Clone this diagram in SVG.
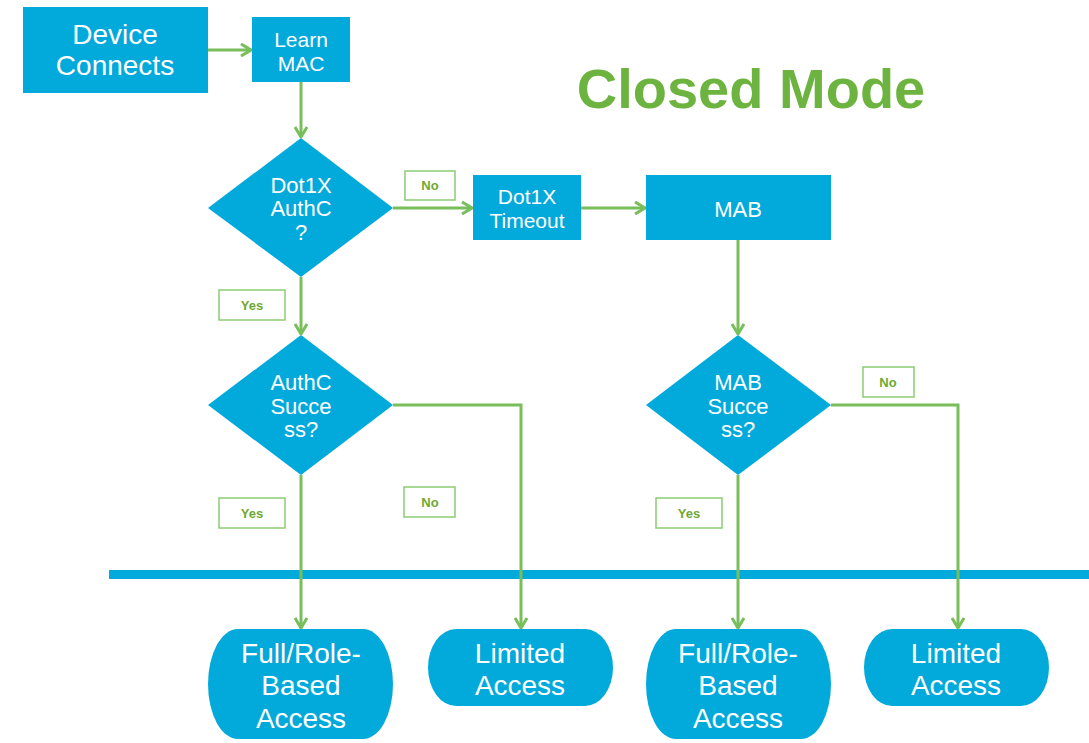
<svg xmlns="http://www.w3.org/2000/svg" width="1089" height="743" viewBox="0 0 1089 743">
  <style>
    .node { fill: #02a9db; }
    .txt { font-family: "Liberation Sans", Arial, sans-serif; fill: #ffffff; text-anchor: middle; }
    .conn { fill: none; stroke: #78be5a; stroke-width: 3; stroke-linejoin: miter; }
    .tag rect { fill: #ffffff; stroke: #8ccb74; stroke-width: 1.5; }
    .tag text { font-family: "Liberation Sans", Arial, sans-serif; font-weight: bold; font-size: 13px; fill: #6fa832; text-anchor: middle; }
    .title { font-family: "Liberation Sans", Arial, sans-serif; font-weight: bold; font-size: 56px; fill: #6db33f; text-anchor: middle; }
  </style>
  <defs>
    <marker id="arrow" viewBox="0 0 12 14" refX="11" refY="7" markerWidth="12" markerHeight="14" markerUnits="userSpaceOnUse" orient="auto">
      <path d="M1,1 L11,7 L1,13" fill="none" stroke="#78be5a" stroke-width="3"/>
    </marker>
  </defs>
  <rect width="1089" height="743" fill="#ffffff"/>

  <text class="title" x="751" y="108">Closed Mode</text>

  <!-- divider bar -->
  <rect x="109" y="570" width="980" height="9" fill="#02a9db"/>

  <g id="connectors">
    <path class="conn" d="M208,50 H251" marker-end="url(#arrow)"/>
    <path class="conn" d="M301,82 V137" marker-end="url(#arrow)"/>
    <path class="conn" d="M393,208 H472" marker-end="url(#arrow)"/>
    <path class="conn" d="M581,208 H645" marker-end="url(#arrow)"/>
    <path class="conn" d="M301,277 V334" marker-end="url(#arrow)"/>
    <path class="conn" d="M738,240 V334" marker-end="url(#arrow)"/>
    <path class="conn" d="M301,475 V628" marker-end="url(#arrow)"/>
    <path class="conn" d="M393,405 H521 V628" marker-end="url(#arrow)"/>
    <path class="conn" d="M738,475 V628" marker-end="url(#arrow)"/>
    <path class="conn" d="M831,405 H958 V628" marker-end="url(#arrow)"/>
  </g>

  <g id="labels">
    <g class="tag"><rect x="405" y="171" width="50" height="29"/><text x="430" y="190">No</text></g>
    <g class="tag"><rect x="219" y="290" width="66" height="30"/><text x="252" y="310">Yes</text></g>
    <g class="tag"><rect x="219" y="498" width="66" height="30"/><text x="252" y="518">Yes</text></g>
    <g class="tag"><rect x="404" y="487" width="51" height="30"/><text x="430" y="507">No</text></g>
    <g class="tag"><rect x="863" y="367" width="51" height="30"/><text x="888" y="387">No</text></g>
    <g class="tag"><rect x="656" y="498" width="66" height="30"/><text x="689" y="518">Yes</text></g>
  </g>

  <g id="device-connects">
    <rect class="node" x="23" y="7" width="185" height="86"/>
    <text class="txt" font-size="28" x="115" y="44">Device</text>
    <text class="txt" font-size="28" x="115" y="75">Connects</text>
  </g>

  <g id="learn-mac">
    <rect class="node" x="252" y="17" width="98" height="65"/>
    <text class="txt" font-size="21" x="301" y="47">Learn</text>
    <text class="txt" font-size="21" x="301" y="71">MAC</text>
  </g>

  <g id="dot1x-authc">
    <polygon class="node" points="301,138 393,208 301,277 208,208"/>
    <text class="txt" font-size="22" x="301" y="193">Dot1X</text>
    <text class="txt" font-size="22" x="301" y="216">AuthC</text>
    <text class="txt" font-size="22" x="301" y="240">?</text>
  </g>

  <g id="dot1x-timeout">
    <rect class="node" x="473" y="175" width="108" height="65"/>
    <text class="txt" font-size="21" x="527" y="204">Dot1X</text>
    <text class="txt" font-size="21" x="527" y="228">Timeout</text>
  </g>

  <g id="mab">
    <rect class="node" x="646" y="175" width="185" height="65"/>
    <text class="txt" font-size="22" x="738" y="217">MAB</text>
  </g>

  <g id="authc-success">
    <polygon class="node" points="301,335 393,405 301,475 208,405"/>
    <text class="txt" font-size="22" x="301" y="390">AuthC</text>
    <text class="txt" font-size="22" x="301" y="414">Succe</text>
    <text class="txt" font-size="22" x="301" y="437">ss?</text>
  </g>

  <g id="mab-success">
    <polygon class="node" points="738,335 831,405 738,475 646,405"/>
    <text class="txt" font-size="22" x="738" y="390">MAB</text>
    <text class="txt" font-size="22" x="738" y="414">Succe</text>
    <text class="txt" font-size="22" x="738" y="437">ss?</text>
  </g>

  <g id="full-access-1">
    <rect class="node" x="208" y="629" width="185" height="110" rx="30" ry="55"/>
    <text class="txt" font-size="28" x="301" y="663">Full/Role-</text>
    <text class="txt" font-size="28" x="301" y="695">Based</text>
    <text class="txt" font-size="28" x="301" y="728">Access</text>
  </g>

  <g id="limited-access-1">
    <rect class="node" x="428" y="629" width="185" height="77" rx="28" ry="38.5"/>
    <text class="txt" font-size="28" x="520" y="663">Limited</text>
    <text class="txt" font-size="28" x="520" y="695">Access</text>
  </g>

  <g id="full-access-2">
    <rect class="node" x="646" y="629" width="185" height="110" rx="30" ry="55"/>
    <text class="txt" font-size="28" x="738" y="663">Full/Role-</text>
    <text class="txt" font-size="28" x="738" y="695">Based</text>
    <text class="txt" font-size="28" x="738" y="728">Access</text>
  </g>

  <g id="limited-access-2">
    <rect class="node" x="864" y="629" width="185" height="77" rx="28" ry="38.5"/>
    <text class="txt" font-size="28" x="956" y="663">Limited</text>
    <text class="txt" font-size="28" x="956" y="695">Access</text>
  </g>
</svg>
